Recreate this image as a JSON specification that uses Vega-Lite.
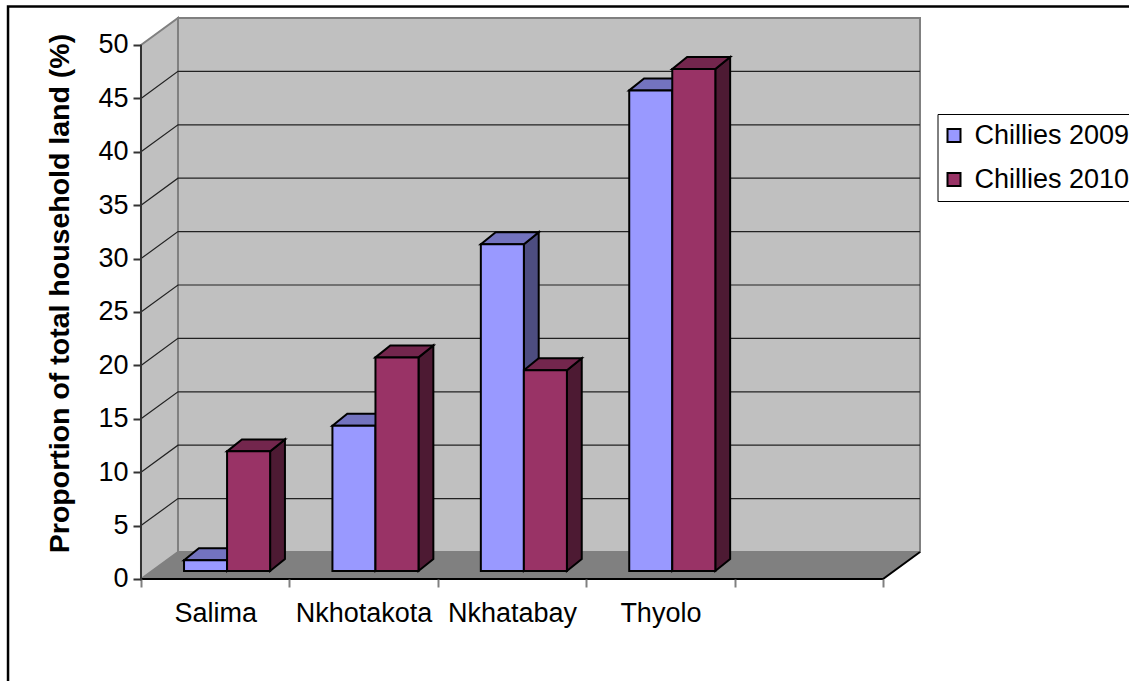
{
"$schema":"https://vega.github.io/schema/vega-lite/v6.json",
"width":1129,"height":681,"padding":0,"autosize":{"type":"none"},"background":"white",
"config":{"view":{"stroke":null},"font":"Liberation Sans"},
"datasets":{
"bars":[
{"site":"Salima","series":"Chillies 2009","value":1.0},
{"site":"Salima","series":"Chillies 2010","value":11.2},
{"site":"Nkhotakota","series":"Chillies 2009","value":13.6},
{"site":"Nkhotakota","series":"Chillies 2010","value":20.0},
{"site":"Nkhatabay","series":"Chillies 2009","value":30.6},
{"site":"Nkhatabay","series":"Chillies 2010","value":18.8},
{"site":"Thyolo","series":"Chillies 2009","value":45.0},
{"site":"Thyolo","series":"Chillies 2010","value":47.0}
],
"grid":[{"v":5},{"v":10},{"v":15},{"v":20},{"v":25},{"v":30},{"v":35},{"v":40},{"v":45}],
"top":[{"v":50}]
},
"encoding":{
"x":{"field":"px","type":"quantitative","scale":{"domain":[-0.9501,6.6577],"nice":false,"zero":false},
 "axis":{"orient":"bottom","offset":-102,"zindex":1,"title":null,"values":[0,0.5,1,1.5,2,2.5,3,3.5,4,4.5,5],"grid":false,"domain":false,
  "tickSize":8,"tickWidth":2,"tickColor":"#808080","tickOpacity":{"expr":"datum.value%1==0?1:0"},
  "labelFontSize":27,"labelFont":"Liberation Sans","labelColor":"#000","labelPadding":13,"labelOverlap":false,"labelBound":false,"labelFlush":false,
  "labelExpr":"indexof([0.5,1.5,2.5,3.5],datum.value)>=0?['Salima','Nkhotakota','Nkhatabay','Thyolo'][datum.value-0.5]:''"}},
"y":{"field":"py","type":"quantitative","scale":{"domain":[-9.551,54.213],"nice":false,"zero":false},
 "axis":{"orient":"left","offset":-141,"zindex":1,"title":"Proportion of total household land (%)","values":[0,5,10,15,20,25,30,35,40,45,50],"grid":false,"domain":false,
  "tickSize":8,"tickWidth":2,"tickColor":"#333","labelFontSize":27,"labelFont":"Liberation Sans","labelColor":"#000","labelPadding":5,"labelOverlap":false,"labelBound":false,"labelFlush":false,
  "titleFontSize":28.5,"titleFont":"Liberation Sans","titleFontWeight":"bold","titleColor":"#000","titleX":-82,"titleY":293,"titleAngle":270,"titleAlign":"center","titleBaseline":"middle"}}
},
"layer":[
{"data":{"name":"top"},"transform":[{"calculate":"-0.896","as":"px"},{"calculate":"7","as":"px2"},{"calculate":"53.6","as":"py"},{"calculate":"-12","as":"py2"}],
 "mark":{"type":"rect","fill":"white","stroke":"#000","strokeWidth":2.5},"encoding":{"x2":{"field":"px2"},"y2":{"field":"py2"}}},
{"data":{"name":"top"},"transform":[{"calculate":"0.2493","as":"px"},{"calculate":"5.2493","as":"px2"},{"calculate":"datum.v+2.53","as":"py"},{"calculate":"2.53","as":"py2"}],
 "mark":{"type":"rect","fill":"#c0c0c0","stroke":"#808080","strokeWidth":2},"encoding":{"x2":{"field":"px2"},"y2":{"field":"py2"}}},
{"data":{"name":"top"},"transform":[{"calculate":"[0,1]","as":"k"},{"flatten":["k"]},{"calculate":"datum.k*0.2493","as":"px"},{"calculate":"datum.v+datum.k*2.53","as":"py"},{"calculate":"datum.k*2.53","as":"py2"}],
 "mark":{"type":"area","fill":"#c0c0c0","stroke":"#808080","strokeWidth":2},"encoding":{"y2":{"field":"py2"}}},
{"data":{"name":"grid"},"transform":[{"calculate":"[0,1,2]","as":"k"},{"flatten":["k"]},{"calculate":"[0,0.2493,5.2493][datum.k]","as":"px"},{"calculate":"datum.v+(datum.k>0?2.53:0)","as":"py"}],
 "mark":{"type":"line","stroke":"#222","strokeWidth":1.2},"encoding":{"detail":{"field":"v"}}},
{"data":{"name":"top"},"transform":[{"calculate":"[0,1,2,3]","as":"k"},{"flatten":["k"]},{"calculate":"[0,0.2493,5,5.2493][datum.k]","as":"px"},{"calculate":"[0,2.53,2.53,2.53][datum.k]","as":"py"},{"calculate":"[0,0,0,2.53][datum.k]","as":"py2"}],
 "mark":{"type":"area","fill":"#808080"},"encoding":{"y2":{"field":"py2"}}},
{"data":{"name":"top"},"transform":[{"calculate":"[0,1,2]","as":"k"},{"flatten":["k"]},{"calculate":"[0,5,5.2493][datum.k]","as":"px"},{"calculate":"[0,0,2.53][datum.k]","as":"py"}],
 "mark":{"type":"line","stroke":"#000","strokeWidth":2},"encoding":{}},
{"data":{"name":"top"},"transform":[{"calculate":"0","as":"px"},{"calculate":"0","as":"py"},{"calculate":"datum.v","as":"py2"}],
 "mark":{"type":"rule","stroke":"#333","strokeWidth":2},"encoding":{"y2":{"field":"py2"}}},
{"data":{"name":"bars"},"transform":[
 {"calculate":"indexof(['Salima','Nkhotakota','Nkhatabay','Thyolo'],datum.site)+0.29+(datum.series=='Chillies 2009'?0:0.29)+0.29","as":"right"},
 {"calculate":"[0,1]","as":"k"},{"flatten":["k"]},
 {"calculate":"datum.right+datum.k*0.1","as":"px"},{"calculate":"datum.value+0.75+datum.k*1.12","as":"py"},{"calculate":"0.75+datum.k*1.12","as":"py2"}],
 "mark":{"type":"area","stroke":"#000","strokeWidth":2,"strokeJoin":"miter"},
 "encoding":{"y2":{"field":"py2"},"detail":[{"field":"site"},{"field":"series"}],"fill":{"condition":{"test":"datum.series=='Chillies 2009'","value":"#4d4d80"},"value":"#4d1a33"}}},
{"data":{"name":"bars"},"transform":[
 {"calculate":"indexof(['Salima','Nkhotakota','Nkhatabay','Thyolo'],datum.site)+0.29+(datum.series=='Chillies 2009'?0:0.29)","as":"left"},
 {"calculate":"[0,1,2,3]","as":"k"},{"flatten":["k"]},
 {"calculate":"datum.left+[0,0.1,0.29,0.39][datum.k]","as":"px"},
 {"calculate":"datum.value+0.75+[0,1.12,1.12,1.12][datum.k]","as":"py"},
 {"calculate":"datum.value+0.75+[0,0,0,1.12][datum.k]","as":"py2"}],
 "mark":{"type":"area","stroke":"#000","strokeWidth":2,"strokeJoin":"miter"},
 "encoding":{"y2":{"field":"py2"},"detail":[{"field":"site"},{"field":"series"}],"fill":{"condition":{"test":"datum.series=='Chillies 2009'","value":"#7373bf"},"value":"#73264d"}}},
{"data":{"name":"bars"},"transform":[
 {"calculate":"indexof(['Salima','Nkhotakota','Nkhatabay','Thyolo'],datum.site)+0.29+(datum.series=='Chillies 2009'?0:0.29)","as":"px"},
 {"calculate":"datum.px+0.29","as":"px2"},{"calculate":"datum.value+0.75","as":"py"},{"calculate":"0.75","as":"py2"}],
 "mark":{"type":"rect","stroke":"#000","strokeWidth":2},
 "encoding":{"x2":{"field":"px2"},"y2":{"field":"py2"},
  "color":{"field":"series","type":"nominal","scale":{"domain":["Chillies 2009","Chillies 2010"],"range":["#9999ff","#993366"]},
   "legend":{"title":null,"orient":"none","legendX":937.5,"legendY":114,"fillColor":"#fff","strokeColor":"#000","padding":8,"rowPadding":16,"symbolType":"square","symbolSize":169,"symbolStrokeColor":"#000","symbolStrokeWidth":2,"symbolOpacity":1,"symbolOffset":-5,"labelFontSize":27,"labelFont":"Liberation Sans","labelColor":"#000","labelOffset":7,"labelLimit":400}}}}
]
}
